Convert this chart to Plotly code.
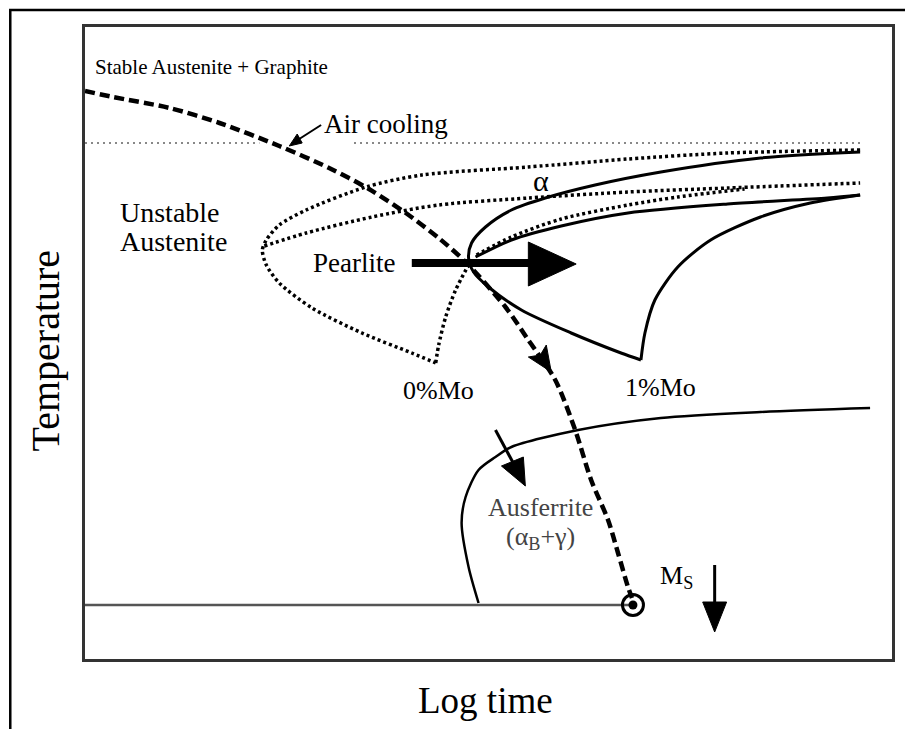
import plotly.graph_objects as go

# Schematic TTT diagram; x = log time (arbitrary units), y = temperature (arbitrary units)
FONT = "Liberation Serif"

air_x = [0, 28, 85, 135, 195, 245, 285, 322, 355, 382, 422, 445, 472, 492, 508, 525, 535, 545, 549]
air_y = [568, 562, 551, 536, 513, 491, 470, 446, 421, 397, 352, 319, 279, 229, 179, 139, 106, 72, 61]

a1_x = [778, 645, 545, 445, 338, 282, 222, 195, 182, 178, 182, 195, 228, 278, 328, 352]
a1_y = [509, 506, 500, 492, 484, 472, 449, 434, 419, 409, 394, 376, 351, 326, 306, 296]
a2_x = [352, 355, 362, 372, 385]
a2_y = [296, 314, 342, 369, 394]
b_x = [180, 222, 288, 355, 445, 545, 645, 778]
b_y = [413, 426, 442, 454, 461, 467, 471, 476]
c_x = [393, 428, 478, 545, 595, 662]
c_y = [404, 422, 440, 454, 462, 470]

d1_x = [778, 678, 578, 512, 462, 428, 402, 388, 385, 390, 405, 438, 488, 538, 558]
d1_y = [507, 501, 487, 474, 461, 449, 432, 416, 401, 387, 372, 349, 326, 306, 299]
d2_x = [558, 562, 572, 595, 628, 678, 728, 778]
d2_y = [299, 326, 359, 392, 419, 442, 456, 464]
e_x = [392, 428, 478, 545, 645, 745, 778]
e_y = [402, 419, 433, 446, 455, 461, 464]

f_x = [395, 385, 378, 382, 395, 412, 428, 495, 578, 678, 788]
f_y = [56, 92, 136, 162, 189, 202, 212, 229, 241, 247, 251]

eq_y = 516
eq_left_x = [0, 175]
eq_right_x = [270, 780]

ms_y = 54
ms_x = [0, 550]

pearl_shaft_x = [328, 447]
pearl_shaft_y = [396, 396]
pearl_head_x = [445, 493, 445, 445]
pearl_head_y = [417, 395, 373, 417]

cool_head_x = [468, 445, 457, 463, 468]
cool_head_y = [287, 302, 304, 314, 287]

ms_shaft_x = [632, 632]
ms_shaft_y = [94, 54]
ms_head_x = [620, 632, 644, 620]
ms_head_y = [57, 27, 57, 57]

f_shaft_x = [412, 432]
f_shaft_y = [229, 192]
f_head_x = [442, 418, 440, 442]
f_head_y = [173, 193, 202, 173]

lab_shaft_x = [237, 215]
lab_shaft_y = [534, 520]
lab_head_x = [205, 218, 213, 205]
lab_head_y = [513, 516, 525, 513]

fig = go.Figure()

def line(x, y, color="black", width=3, dash="solid", shape="spline"):
    fig.add_trace(go.Scatter(x=x, y=y, mode="lines", hoverinfo="skip",
                             line=dict(color=color, width=width, dash=dash, shape=shape, smoothing=0.8)))

def poly(x, y, color="black"):
    fig.add_trace(go.Scatter(x=x, y=y, mode="lines", fill="toself", fillcolor=color,
                             hoverinfo="skip", line=dict(color=color, width=1)))

# equilibrium dotted line
line(eq_left_x, [eq_y, eq_y], color="#888", width=2, dash="2px,4px", shape="linear")
line(eq_right_x, [eq_y, eq_y], color="#888", width=2, dash="2px,4px", shape="linear")
# Ms line
line(ms_x, [ms_y, ms_y], color="#555", width=2.5, shape="linear")

# 0%Mo dotted curves
DOT = "3px,3px"
line(a1_x, a1_y, color="black", width=3.5, dash=DOT)
line(a2_x, a2_y, color="black", width=3.5, dash=DOT)
line(b_x, b_y, color="black", width=3.5, dash=DOT)
line(c_x, c_y, color="black", width=3.5, dash=DOT)

# 1%Mo solid curves
line(d1_x, d1_y, width=3)
line(d2_x, d2_y, width=3)
line(e_x, e_y, width=3)
line(f_x, f_y, width=2.5)

# air cooling curve
line(air_x, air_y, width=4.5, dash="10px,5px")

# arrows
line(pearl_shaft_x, pearl_shaft_y, width=8, shape="linear")
poly(pearl_head_x, pearl_head_y)
poly(cool_head_x, cool_head_y)
line(ms_shaft_x, ms_shaft_y, width=3, shape="linear")
poly(ms_head_x, ms_head_y)
line(f_shaft_x, f_shaft_y, width=3, shape="linear")
poly(f_head_x, f_head_y)
line(lab_shaft_x, lab_shaft_y, width=2, shape="linear")
poly(lab_head_x, lab_head_y)

# Ms end marker
fig.add_trace(go.Scatter(x=[ms_x[1]], y=[ms_y], mode="markers", hoverinfo="skip",
                         marker=dict(symbol="circle-open", size=21, color="black", line=dict(width=3))))
fig.add_trace(go.Scatter(x=[ms_x[1]], y=[ms_y], mode="markers", hoverinfo="skip",
                         marker=dict(symbol="circle", size=9, color="black")))

def text(x, y, s, size=27, color="black", xanchor="center"):
    fig.add_annotation(x=x, y=y, text=s, showarrow=False, xanchor=xanchor, yanchor="middle",
                       font=dict(family=FONT, size=size, color=color))

text(8, 592, "Stable Austenite + Graphite", size=21, xanchor="left")
text(238, 535, "Air cooling", size=27, xanchor="left")
text(33, 447, "Unstable", size=28, xanchor="left")
text(33, 418, "Austenite", size=28, xanchor="left")
text(270, 396, "Pearlite", size=27)
text(458, 479, "α", size=30)
text(355, 269, "0%Mo", size=26)
text(578, 272, "1%Mo", size=26)
text(457, 152, "Ausferrite", size=26, color="#444")
text(457, 121, "(α<sub>B</sub>+γ)", size=26, color="#444")
text(575, 82, "M<sub>S</sub>", size=26, xanchor="left")

fig.add_annotation(xref="paper", yref="paper", x=-0.049, y=0.489, text="Temperature",
                   showarrow=False, textangle=-90, xanchor="center", yanchor="middle",
                   font=dict(family=FONT, size=40, color="black"))
fig.add_annotation(xref="paper", yref="paper", x=0.496, y=-0.065, text="Log time",
                   showarrow=False, xanchor="center", yanchor="middle",
                   font=dict(family=FONT, size=37, color="black"))

# outer frame (left and top edges)
fig.add_shape(type="path", xref="paper", yref="paper",
              path="M -0.0926,-0.12 L -0.0926,1.0269 L 1.02,1.0269",
              line=dict(color="black", width=2.5))

axis = dict(showgrid=False, zeroline=False, showticklabels=False, ticks="",
            showline=True, mirror=True, linecolor="#333", linewidth=2.5, fixedrange=True)
fig.update_layout(
    width=905, height=729, showlegend=False,
    margin=dict(l=85, r=10, t=27, b=70),
    paper_bgcolor="white", plot_bgcolor="white",
    xaxis=dict(range=[0, 810], **axis),
    yaxis=dict(range=[0, 632], **axis),
)
fig.write_html("out.html", config={"displayModeBar": False})
